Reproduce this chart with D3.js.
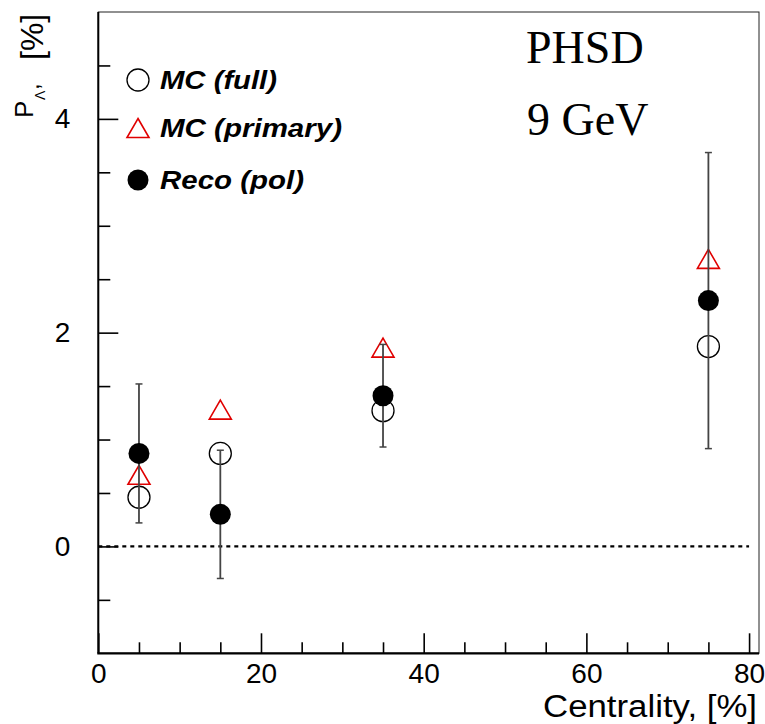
<!DOCTYPE html>
<html>
<head>
<meta charset="utf-8">
<script src="https://cdn.jsdelivr.net/npm/d3@7/dist/d3.min.js"></script>
<style>
  html, body { margin: 0; padding: 0; background: #fff; }
  svg { display: block; font-family: "Liberation Sans", Arial, sans-serif; }
</style>
</head>
<body>
<svg id="chart" width="765" height="724"></svg>
<script>
// Lambda polarization vs centrality, PHSD at 9 GeV
const centrality = [5, 15, 35, 75];
const mcFull = [0.46, 0.87, 1.27, 1.87];
const mcPrimary = [0.67, 1.28, 1.86, 2.69];
const reco = [0.87, 0.30, 1.41, 2.30];
const recoErr = [0.65, 0.60, 0.48, 1.385];

const xMajorTicks = [0, 20, 40, 60, 80];
const xMinorTicks = [5, 10, 15, 25, 30, 35, 45, 50, 55, 65, 70, 75];
const yMajorTicks = [0, 2, 4];
const yMinorTicks = [-0.5, 0.5, 1, 1.5, 2.5, 3, 3.5, 4.5];

const legendLabels = ["MC (full)", "MC (primary)", "Reco (pol)"];

const svg = d3.select("#chart");
const frame = { left: 98.3, right: 759, top: 12, bottom: 653.3 };

const x = d3.scaleLinear().domain([0, 81.22]).range([frame.left, frame.right]);
const y = d3.scaleLinear().domain([-1, 5]).range([frame.bottom, frame.top]);

// frame (top and right are thin)
svg.append("rect")
  .attr("x", frame.left).attr("y", frame.top)
  .attr("width", frame.right - frame.left).attr("height", frame.bottom - frame.top)
  .attr("fill", "none").attr("stroke", "#222").attr("stroke-width", 1);

// axes with inward ticks
function styleAxis(g) {
  g.selectAll("path").remove();
  g.selectAll("line").attr("stroke", "#000").attr("stroke-width", 1.6);
  g.selectAll("text").attr("fill", "#000").attr("font-size", 28)
    .attr("font-family", "Liberation Sans, Arial, sans-serif");
}

const xAxisMajor = svg.append("g").attr("transform", `translate(0,${frame.bottom})`)
  .call(d3.axisBottom(x).tickValues(xMajorTicks).tickSize(-20).tickPadding(30).tickFormat(d3.format("d")));
styleAxis(xAxisMajor);
xAxisMajor.selectAll("text").attr("dy", "0");

const xAxisMinor = svg.append("g").attr("transform", `translate(0,${frame.bottom})`)
  .call(d3.axisBottom(x).tickValues(xMinorTicks).tickSize(-11).tickFormat(""));
styleAxis(xAxisMinor);

const yAxisMajor = svg.append("g").attr("transform", `translate(${frame.left},0)`)
  .call(d3.axisLeft(y).tickValues(yMajorTicks).tickSize(-20).tickPadding(28).tickFormat(d3.format("d")));
styleAxis(yAxisMajor);

const yAxisMinor = svg.append("g").attr("transform", `translate(${frame.left},0)`)
  .call(d3.axisLeft(y).tickValues(yMinorTicks).tickSize(-12).tickFormat(""));
styleAxis(yAxisMinor);

// heavier left and bottom axis lines
svg.append("line").attr("x1", frame.left).attr("x2", frame.left)
  .attr("y1", frame.top).attr("y2", frame.bottom).attr("stroke", "#000").attr("stroke-width", 2);
svg.append("line").attr("x1", frame.left - 1).attr("x2", frame.right)
  .attr("y1", frame.bottom).attr("y2", frame.bottom).attr("stroke", "#000").attr("stroke-width", 2.2);

// zero reference line
svg.append("line")
  .attr("x1", x(0)).attr("x2", x(80))
  .attr("y1", y(0)).attr("y2", y(0))
  .attr("stroke", "#000").attr("stroke-width", 2.2)
  .attr("stroke-dasharray", "4,4");

// marker helpers
const rOpen = 11, rFilled = 10.5, triW = 22, triH = 19;
function openCircle(g, cx, cy) {
  g.append("circle").attr("cx", cx).attr("cy", cy).attr("r", rOpen)
    .attr("fill", "none").attr("stroke", "#000").attr("stroke-width", 1.3);
}
function openTriangle(g, cx, cy) {
  const pts = [[cx, cy - triH / 2], [cx + triW / 2, cy + triH / 2], [cx - triW / 2, cy + triH / 2]];
  g.append("polygon").attr("points", pts.map(p => p.join(",")).join(" "))
    .attr("fill", "none").attr("stroke", "#e00000").attr("stroke-width", 1.6);
}
function filledCircle(g, cx, cy) {
  g.append("circle").attr("cx", cx).attr("cy", cy).attr("r", rFilled).attr("fill", "#000");
}

const marks = svg.append("g");

// MC (full)
centrality.forEach((c, i) => openCircle(marks, x(c), y(mcFull[i])));
// MC (primary)
centrality.forEach((c, i) => openTriangle(marks, x(c), y(mcPrimary[i])));
// Reco (pol) with error bars
centrality.forEach((c, i) => {
  const cx = x(c);
  const lo = y(reco[i] - recoErr[i]), hi = y(reco[i] + recoErr[i]);
  marks.append("line").attr("x1", cx).attr("x2", cx).attr("y1", lo).attr("y2", hi)
    .attr("stroke", "#444").attr("stroke-width", 1.8);
  [lo, hi].forEach(v => marks.append("line")
    .attr("x1", cx - 3.5).attr("x2", cx + 3.5).attr("y1", v).attr("y2", v)
    .attr("stroke", "#444").attr("stroke-width", 1.5));
  filledCircle(marks, cx, y(reco[i]));
});

// legend
const legend = svg.append("g");
const legendRows = [80, 128, 180];
const legendWidths = [117, 182, 144];
const legendMarkers = [openCircle, openTriangle, filledCircle];
legendLabels.forEach((lab, i) => {
  legendMarkers[i](legend, 138, legendRows[i]);
  legend.append("text").attr("x", 160).attr("y", legendRows[i] + 8.5)
    .style("font-family", "'Liberation Sans', Arial, sans-serif")
    .attr("font-size", 25).attr("font-weight", "bold").attr("font-style", "italic")
    .attr("textLength", legendWidths[i]).attr("lengthAdjust", "spacingAndGlyphs")
    .attr("fill", "#000").text(lab);
});

// annotations
const serif = "'Liberation Serif', 'Times New Roman', serif";
svg.append("text").attr("x", 526).attr("y", 63)
  .style("font-family", serif).attr("font-size", 46)
  .attr("fill", "#000").text("PHSD");
svg.append("text").attr("x", 527).attr("y", 135)
  .style("font-family", serif).attr("font-size", 46)
  .attr("fill", "#000").text("9 GeV");

// x axis title
svg.append("text").attr("x", 757).attr("y", 717).attr("text-anchor", "end")
  .attr("font-size", 31).attr("textLength", 214).attr("lengthAdjust", "spacingAndGlyphs")
  .attr("fill", "#000").text("Centrality, [%]");

// y axis title (rotated): P_Λ, [%]
const yt = svg.append("g").attr("transform", "rotate(-90)");
yt.append("text").attr("x", -118).attr("y", 33).attr("font-size", 26).attr("fill", "#000").text("P");
yt.append("text").attr("x", -100).attr("y", 45).attr("font-size", 14).attr("fill", "#000").text("Λ");
yt.append("text").attr("x", -90).attr("y", 39).attr("font-size", 24).attr("fill", "#000").text(",");
yt.append("text").attr("x", -60).attr("y", 43).attr("font-size", 32).attr("fill", "#000").text("[%]");
</script>
</body>
</html>
